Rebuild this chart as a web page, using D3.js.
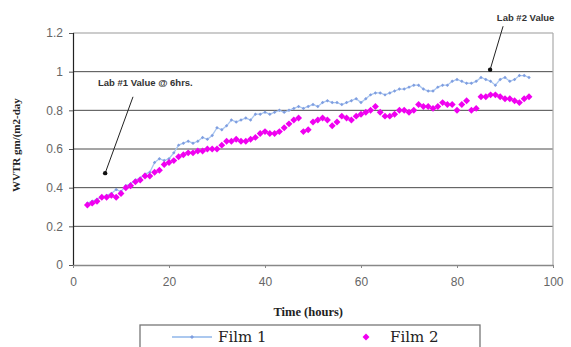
<!DOCTYPE html>
<html>
<head>
<meta charset="utf-8">
<script src="https://cdn.jsdelivr.net/npm/d3@7"></script>
<style>
  body { margin: 0; background: #fff; }
  svg { display: block; }
</style>
</head>
<body>
<div id="container"></div>
<script>
// hours of each reading
const hours = [3,4,5,6,7,8,9,10,11,12,13,14,15,16,17,18,19,20,21,22,23,24,25,26,27,28,29,30,
  31,32,33,34,35,36,37,38,39,40,41,42,43,44,45,46,47,48,49,50,51,52,53,54,55,56,57,58,59,60,
  61,62,63,64,65,66,67,68,69,70,71,72,73,74,75,76,77,78,79,80,81,82,83,84,85,86,87,88,89,90,
  91,92,93,94,95];

const film1 = [0.32,0.33,0.34,0.35,0.36,0.37,0.39,0.38,0.41,0.42,0.44,0.45,0.47,0.48,0.53,0.55,0.54,0.55,0.58,0.62,0.63,0.64,0.63,0.64,0.66,0.65,0.67,0.71,
  0.70,0.72,0.75,0.74,0.75,0.76,0.75,0.78,0.78,0.79,0.78,0.79,0.80,0.79,0.80,0.81,0.82,0.81,0.82,0.83,0.82,0.84,0.85,0.84,0.84,0.83,0.84,0.85,0.86,0.84,
  0.86,0.88,0.89,0.89,0.88,0.89,0.90,0.91,0.91,0.92,0.93,0.93,0.91,0.90,0.90,0.92,0.93,0.93,0.95,0.96,0.95,0.94,0.94,0.95,0.97,0.96,0.95,0.93,0.96,0.97,
  0.95,0.96,0.98,0.98,0.97];

const film2 = [0.31,0.32,0.33,0.35,0.35,0.36,0.35,0.37,0.40,0.41,0.43,0.44,0.46,0.46,0.48,0.49,0.52,0.53,0.54,0.56,0.57,0.58,0.58,0.59,0.59,0.60,0.60,0.60,
  0.62,0.64,0.64,0.65,0.64,0.64,0.65,0.66,0.68,0.69,0.68,0.68,0.69,0.71,0.73,0.75,0.76,0.69,0.70,0.74,0.75,0.76,0.75,0.72,0.74,0.77,0.76,0.75,0.77,0.78,
  0.79,0.80,0.82,0.79,0.77,0.77,0.78,0.80,0.80,0.79,0.80,0.83,0.82,0.82,0.81,0.82,0.84,0.83,0.83,0.80,0.83,0.85,0.80,0.81,0.87,0.87,0.88,0.88,0.87,0.86,
  0.86,0.85,0.84,0.86,0.87];

const xTicks = [0, 20, 40, 60, 80, 100];
const yTicks = [0, 0.2, 0.4, 0.6, 0.8, 1, 1.2];
const seriesNames = ["Film 1", "Film 2"];

// annotations: label position, arrow start, arrow end (data units)
const notes = [
  { text: "Lab #1 Value @ 6hrs.", lx: 5.2, ly: 0.94, x1: 12.5, y1: 0.87, x2: 6.7, y2: 0.475 },
  { text: "Lab #2 Value", lx: 88.3, ly: 1.275, x1: 89.6, y1: 1.235, x2: 86.9, y2: 1.01 }
];

const margin = { top: 33, right: 18, bottom: 82, left: 73 };
const W = 571, H = 347;
const width = W - margin.left - margin.right;
const height = H - margin.top - margin.bottom;

const svg = d3.select("#container").append("svg").attr("width", W).attr("height", H);
const g = svg.append("g").attr("transform", `translate(${margin.left},${margin.top})`);

const x = d3.scaleLinear().domain([0, 100]).range([0, width]);
const y = d3.scaleLinear().domain([0, 1.2]).range([height, 0]);

// gridlines
g.selectAll(".grid").data(yTicks.filter(d => d > 0 && d < 1.2)).enter()
  .append("line")
  .attr("x1", 0).attr("x2", width)
  .attr("y1", d => y(d)).attr("y2", d => y(d))
  .attr("stroke", "#4a4a4a").attr("stroke-width", 1);

// plot frame (top and right, light gray)
g.append("line").attr("x1", 0).attr("x2", width).attr("y1", y(1.2)).attr("y2", y(1.2))
  .attr("stroke", "#bbb").attr("stroke-width", 1.5);
g.append("line").attr("x1", width).attr("x2", width).attr("y1", y(1.2)).attr("y2", y(0))
  .attr("stroke", "#aaa").attr("stroke-width", 1.2);

// axes
const yAxis = d3.axisLeft(y).tickValues(yTicks).tickSize(4).tickPadding(6)
  .tickFormat(d => d3.format("")(+d.toFixed(1)));
const gy = g.append("g").call(yAxis);
gy.select(".domain").attr("stroke", "#222").attr("stroke-width", 1.2);
gy.selectAll(".tick line").attr("stroke", "#555");
gy.selectAll("text").attr("fill", "#666").style("font-family", "Liberation Sans, Arial, sans-serif").style("font-size", "12px");

const xAxis = d3.axisBottom(x).tickValues(xTicks).tickSize(3).tickPadding(9).tickSizeOuter(0);
const gx = g.append("g").attr("transform", `translate(0,${height})`).call(xAxis);
gx.select(".domain").attr("stroke", "#888").attr("stroke-width", 1.5);
gx.selectAll(".tick line").attr("stroke", "#888");
gx.selectAll("text").attr("fill", "#666").style("font-family", "Liberation Sans, Arial, sans-serif").style("font-size", "12px");

const pts1 = hours.map((h, i) => [h, film1[i]]);
const pts2 = hours.map((h, i) => [h, film2[i]]);

// Film 1 line + small markers
g.append("path").datum(pts1)
  .attr("fill", "none").attr("stroke", "#a9c6f0").attr("stroke-width", 1.3)
  .attr("d", d3.line().x(d => x(d[0])).y(d => y(d[1])));

// square turned 45deg = even diamond
const sq = d3.symbol().type(d3.symbolSquare);

g.selectAll(".m1").data(pts1).enter().append("path")
  .attr("transform", d => `translate(${x(d[0])},${y(d[1])}) rotate(45)`)
  .attr("d", sq.size(6)())
  .attr("fill", "#7f9ee0");

// Film 2 markers
g.selectAll(".m2").data(pts2).enter().append("path")
  .attr("transform", d => `translate(${x(d[0])},${y(d[1])}) rotate(45)`)
  .attr("d", sq.size(24)())
  .attr("fill", "#f000f0");

// annotations
notes.forEach(n => {
  g.append("line")
    .attr("x1", x(n.x1)).attr("y1", y(n.y1)).attr("x2", x(n.x2)).attr("y2", y(n.y2))
    .attr("stroke", "#222").attr("stroke-width", 1);
  g.append("circle").attr("cx", x(n.x2)).attr("cy", y(n.y2)).attr("r", 2.2).attr("fill", "#111");
  svg.append("text")
    .attr("x", margin.left + x(n.lx)).attr("y", margin.top + y(n.ly))
    .attr("dominant-baseline", "middle")
    .style("font-family", "Liberation Sans, Arial, sans-serif")
    .style("font-size", "9.5px").style("font-weight", "bold").attr("fill", "#333")
    .text(n.text);
});

// axis titles
svg.append("text")
  .attr("transform", `translate(20,${margin.top + y(0.62)}) rotate(-90)`)
  .attr("text-anchor", "middle")
  .style("font-family", "Liberation Serif, Times New Roman, serif")
  .style("font-size", "11px").style("font-weight", "bold").attr("fill", "#222")
  .text("WVTR gm/(m2-day");

svg.append("text")
  .attr("x", margin.left + x(49)).attr("y", 316)
  .attr("text-anchor", "middle")
  .style("font-family", "Liberation Serif, Times New Roman, serif")
  .style("font-size", "12.5px").style("font-weight", "bold").attr("fill", "#222")
  .text("Time (hours)");

// legend (box runs past the bottom edge, as in the reference)
const lg = svg.append("g").attr("transform", "translate(140,325)");
lg.append("rect").attr("x", 0).attr("y", 0).attr("width", 340).attr("height", 30)
  .attr("fill", "#fff").attr("stroke", "#777").attr("stroke-width", 1.3);
lg.append("line").attr("x1", 32).attr("x2", 72).attr("y1", 12).attr("y2", 12)
  .attr("stroke", "#8fb6ea").attr("stroke-width", 1.3);
lg.append("path").attr("transform", "translate(52,12) rotate(45)").attr("d", sq.size(8)()).attr("fill", "#7f9ee0");
lg.append("path").attr("transform", "translate(226,12) rotate(45)").attr("d", sq.size(24)()).attr("fill", "#f000f0");
lg.selectAll(".lt").data(seriesNames).enter().append("text")
  .attr("x", (d, i) => i === 0 ? 78 : 250).attr("y", 17)
  .style("font-family", "DejaVu Serif, serif").style("font-size", "15px")
  .attr("fill", "#222")
  .text(d => d);
</script>
</body>
</html>
